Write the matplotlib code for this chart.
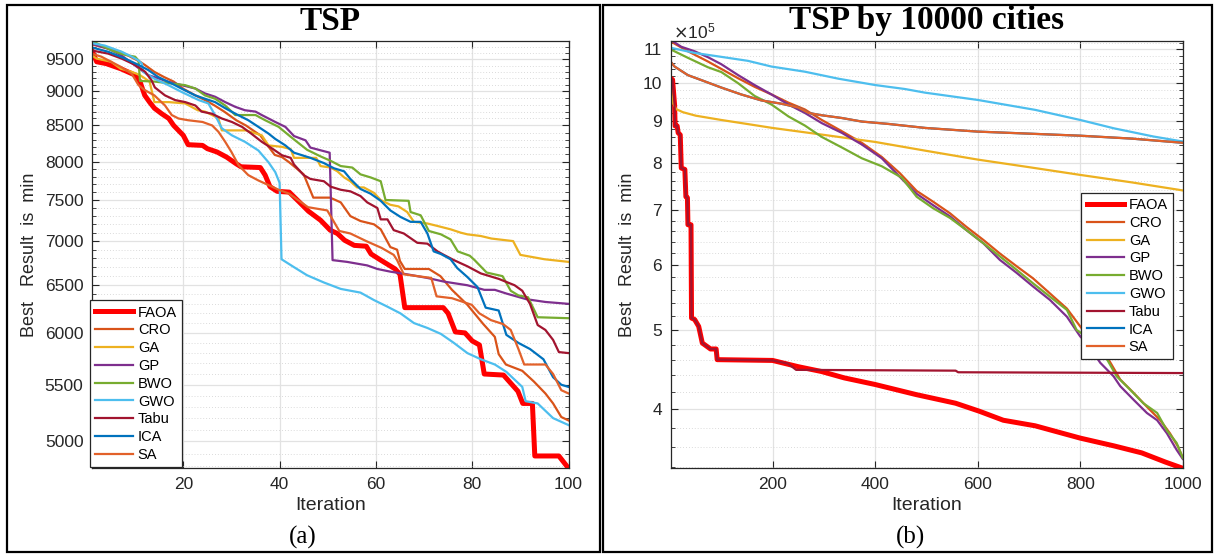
import numpy as np
import matplotlib
matplotlib.use('Agg')
import matplotlib.pyplot as plt
from matplotlib.ticker import FixedLocator, NullFormatter, FuncFormatter
from matplotlib.patches import Rectangle

plt.rcParams['font.family'] = ['Liberation Sans', 'DejaVu Sans']

names = ['FAOA', 'CRO', 'GA', 'GP', 'BWO', 'GWO', 'Tabu', 'ICA', 'SA']
colors = ['#FF0000', '#D95319', '#EDB120', '#7E2F8E', '#77AC30',
          '#4DBEEE', '#A2142F', '#0072BD', '#E2612A']

# ---- (a) TSP, 100 iterations: [iteration, best result] ----
faoa_a = [[1, 9650], [2, 9460], [4, 9430], [7, 9350], [10, 9250], [11, 9150], [12, 8940],
          [13, 8840], [14, 8750], [15.5, 8670], [17, 8600], [18, 8500], [20, 8360], [21, 8230],
          [24, 8220], [25, 8175], [27, 8130], [29, 8060], [31, 7970], [32, 7930], [36, 7920],
          [37, 7820], [38, 7670], [39.5, 7610], [42, 7600], [44, 7480], [46, 7360], [48.5, 7250],
          [50.5, 7130], [52, 7090], [53.5, 7010], [55.5, 6950], [58, 6940], [59, 6850], [61, 6780],
          [64, 6680], [65, 6620], [66, 6260], [74, 6260], [75, 6200], [76.5, 6010], [78.5, 6000],
          [80, 5920], [81.5, 5880], [82.5, 5600], [86.5, 5590], [89.5, 5440], [90.5, 5330],
          [92.5, 5330], [93, 4880], [98, 4880], [100, 4780]]
cro_a = [[1, 9740], [4.4, 9670], [7, 9620], [9, 9540], [11, 9460], [12, 9410], [14, 9300],
         [16, 9220], [18, 9150], [20, 9040], [22.5, 8940], [24.5, 8870], [26.5, 8790],
         [28.5, 8700], [31, 8575], [33, 8500], [36, 8360], [37.5, 8220], [39, 8090], [40.5, 8060],
         [42, 7990], [45, 7830], [47, 7530], [50.5, 7530], [52.7, 7470], [54.7, 7300],
         [56.8, 7240], [59.6, 7200], [61, 7140], [63, 6930], [64.4, 6900], [65, 6770], [66, 6680],
         [71, 6680], [73.4, 6600], [75.8, 6450], [79, 6290], [82.3, 6090], [84.7, 5960],
         [85.5, 5790], [87, 5690], [90.4, 5630], [92.8, 5530], [95.2, 5420], [96.8, 5330],
         [98.5, 5210], [100, 5180]]
ga_a = [[1, 9560], [2, 9510], [5, 9460], [7, 9350], [9.3, 9300], [11, 9250], [13, 9150],
        [14, 8840], [17, 8840], [20.4, 8820], [23, 8720], [24.5, 8700], [26, 8650], [27.3, 8600],
        [28, 8430], [33, 8430], [36.3, 8360], [37.7, 8220], [40.5, 8200], [42.3, 8170], [43, 8050],
        [47.6, 8050], [48.5, 7940], [50.6, 7920], [52, 7870], [53.4, 7790], [54.7, 7740],
        [56.1, 7660], [57.5, 7660], [59.6, 7590], [61, 7500], [63, 7440], [64.7, 7420],
        [66.5, 7350], [67.9, 7230], [70.7, 7210], [72.8, 7180], [75.5, 7140], [77.6, 7100],
        [79, 7080], [81.8, 7060], [84, 7030], [88.5, 7000], [90, 6840], [95, 6790], [100, 6760]]
gp_a = [[1, 9750], [4.4, 9670], [7.2, 9560], [10, 9400], [12.7, 9250], [14.8, 9200],
        [16.9, 9146], [19.7, 9095], [22.5, 9044], [24.5, 8970], [26.6, 8920], [28.7, 8840],
        [30.8, 8770], [32.8, 8720], [35, 8700], [36.3, 8650], [39.1, 8550], [41.2, 8480],
        [43, 8350], [45.4, 8290], [46.4, 8190], [50.4, 8120], [51, 6780], [54, 6760],
        [58.2, 6720], [60.3, 6680], [63, 6650], [66.5, 6620], [70.7, 6580], [74.1, 6540],
        [79, 6500], [82.5, 6450], [84.7, 6450], [87.1, 6410], [91.2, 6350], [95.2, 6320],
        [100, 6300]]
bwo_a = [[1, 9800], [3, 9720], [5.8, 9620], [7.9, 9570], [10, 9540], [10.7, 9480], [11, 9160],
         [14, 9150], [17.6, 9120], [20.4, 9095], [22.5, 9044], [24.5, 8940], [26.6, 8890],
         [28.7, 8790], [30.8, 8650], [35, 8650], [37, 8575], [39.8, 8480], [42.3, 8340],
         [45.7, 8160], [48.5, 8070], [50.6, 8010], [52.7, 7940], [55.1, 7920], [56.8, 7830],
         [58.9, 7790], [61, 7740], [62, 7500], [66.8, 7490], [67.2, 7350], [69.3, 7310],
         [71, 7120], [73.5, 7080], [75.5, 7020], [77, 6880], [79.5, 6830], [80.5, 6780],
         [83, 6640], [86.3, 6600], [88, 6440], [89.6, 6390], [91.6, 6370], [93.6, 6160],
         [100, 6150]]
gwo_a = [[1, 9760], [3.7, 9720], [7.2, 9620], [9.3, 9540], [10.7, 9480], [11.4, 9430],
         [11.7, 9300], [14.1, 9190], [16.9, 9095], [19.7, 8990], [23.2, 8870], [25.2, 8820],
         [26.6, 8650], [28, 8460], [30.1, 8360], [32.8, 8270], [35.6, 8150], [37.7, 7990],
         [39.1, 7860], [40, 7720], [40.4, 6790], [43, 6700], [45.7, 6610], [49.2, 6530],
         [52.7, 6460], [56.8, 6420], [59.6, 6340], [62.4, 6270], [65.1, 6200], [67.9, 6100],
         [70.7, 6050], [73.5, 5990], [76.2, 5900], [79, 5800], [81.8, 5740], [84.7, 5690],
         [87.1, 5620], [90.4, 5480], [91.1, 5350], [93.6, 5330], [96.8, 5200], [100, 5140]]
tabu_a = [[1, 9640], [4.4, 9590], [7.2, 9510], [10, 9410], [12.1, 9300], [13.4, 9170],
          [14.1, 9060], [16.2, 8940], [18.3, 8870], [20.4, 8840], [22.5, 8790], [23.8, 8700],
          [25.9, 8670], [28, 8600], [30.1, 8550], [32.2, 8480], [34.2, 8380], [36.3, 8270],
          [38.4, 8180], [40.5, 8085], [42.3, 8050], [43, 7960], [45, 7820], [46.4, 7770],
          [49.2, 7740], [50.6, 7670], [52.7, 7630], [54.7, 7610], [56.8, 7550], [58.2, 7470],
          [60.3, 7400], [61, 7260], [62.4, 7260], [63.7, 7130], [65.8, 7090], [68.6, 6980],
          [70.7, 6970], [72.8, 6880], [74.1, 6840], [76.2, 6780], [79, 6710], [81.8, 6630],
          [85.5, 6570], [88.8, 6500], [90.4, 6440], [92, 6300], [93.6, 6080], [95.2, 6030],
          [96.8, 5930], [98, 5810], [100, 5800]]
ica_a = [[1, 9690], [4.4, 9620], [7.9, 9510], [10.7, 9410], [12.7, 9330], [14.8, 9220],
         [17.6, 9120], [19.7, 9040], [22.5, 8940], [24.5, 8890], [26.6, 8840], [28.7, 8750],
         [30.8, 8670], [33.5, 8575], [35.6, 8480], [37.7, 8385], [39.1, 8310], [41.2, 8220],
         [43, 8120], [46.4, 8050], [49.2, 7980], [51.3, 7910], [53.4, 7870], [54.7, 7770],
         [56.8, 7640], [58.9, 7580], [61, 7490], [63, 7370], [65.1, 7290], [67.2, 7230],
         [69.3, 7230], [70.7, 7090], [72, 6880], [73.5, 6850], [75.5, 6790], [76.9, 6690],
         [79, 6590], [81.1, 6480], [82.8, 6260], [85.5, 6230], [87.1, 5980], [89.6, 5900],
         [92, 5840], [94.8, 5740], [96.8, 5570], [98.5, 5500], [100, 5480]]
sa_a = [[1, 9590], [3, 9540], [5, 9460], [7, 9380], [9.3, 9270], [10.7, 9095], [12, 9020],
        [14, 8940], [16.2, 8790], [17.6, 8650], [19, 8600], [21, 8575], [24, 8550], [26, 8500],
        [27.3, 8410], [28.7, 8270], [30, 8130], [31.5, 7950], [33.5, 7820], [35.6, 7750],
        [37.7, 7690], [39.8, 7630], [42, 7580], [45.9, 7410], [49.9, 7370], [52.4, 7120],
        [54.7, 7090], [58, 7000], [61.2, 6920], [63.7, 6840], [64.4, 6780], [65.8, 6620],
        [71.5, 6580], [72.6, 6380], [75.8, 6360], [79.9, 6290], [81.5, 6200], [83.9, 6130],
        [86.4, 6090], [88, 6030], [89.6, 5840], [90.8, 5690], [95.2, 5690], [96.8, 5600],
        [98.5, 5450], [100, 5420]]

# ---- (b) TSP by 10000 cities, 1000 iterations: [iteration, best result / 1e5] ----
faoa_b = [[1, 10.15], [5, 10.1], [9, 9.4], [10, 8.87], [14, 8.87], [16, 8.7], [20, 8.65],
          [22, 7.88], [29, 7.85], [31, 7.27], [34, 7.25], [35, 6.72], [41, 6.72], [42, 5.17],
          [48, 5.15], [56, 5.05], [63, 4.82], [79, 4.74], [90, 4.74], [92, 4.6], [200, 4.59],
          [250, 4.51], [295, 4.45], [340, 4.37], [400, 4.29], [480, 4.17], [557, 4.07],
          [603, 3.98], [650, 3.88], [712, 3.82], [800, 3.69], [866, 3.61], [920, 3.54],
          [966, 3.45], [1000, 3.39]]
cro_b = [[1, 11.25], [35, 10.94], [74, 10.63], [133, 10.14], [165, 9.9], [198, 9.69],
         [231, 9.47], [263, 9.29], [296, 9.02], [335, 8.74], [374, 8.46], [413, 8.13],
         [448, 7.77], [481, 7.39], [513, 7.17], [546, 6.94], [578, 6.68], [611, 6.44],
         [643, 6.2], [676, 5.98], [708, 5.78], [741, 5.54], [774, 5.31], [800, 5.05],
         [826, 4.82], [852, 4.64], [878, 4.35], [904, 4.19], [930, 4.03], [956, 3.88],
         [975, 3.74], [991, 3.6], [1000, 3.49]]
ga_b = [[1, 10.1], [3, 9.7], [6, 9.45], [12, 9.3], [25, 9.22], [50, 9.13], [100, 9.02],
        [150, 8.92], [200, 8.82], [300, 8.65], [400, 8.48], [500, 8.27], [600, 8.07],
        [700, 7.9], [800, 7.73], [900, 7.57], [1000, 7.40]]
gp_b = [[1, 11.3], [22, 11.08], [48, 10.94], [74, 10.76], [100, 10.55], [133, 10.23],
        [165, 9.95], [198, 9.69], [231, 9.42], [263, 9.2], [296, 8.94], [335, 8.7], [374, 8.42],
        [413, 8.1], [448, 7.69], [481, 7.33], [513, 7.1], [546, 6.88], [578, 6.62], [611, 6.38],
        [643, 6.09], [676, 5.87], [708, 5.65], [741, 5.44], [774, 5.19], [800, 4.91],
        [813, 4.82], [839, 4.56], [865, 4.39], [878, 4.27], [904, 4.11], [930, 3.96],
        [950, 3.88], [969, 3.74], [988, 3.57], [1000, 3.48]]
bwo_b = [[1, 11.0], [35, 10.74], [74, 10.46], [100, 10.32], [133, 10.0], [165, 9.65],
         [198, 9.42], [231, 9.11], [263, 8.88], [296, 8.6], [335, 8.35], [374, 8.1], [413, 7.92],
         [452, 7.67], [481, 7.27], [513, 7.04], [546, 6.85], [578, 6.62], [611, 6.38],
         [643, 6.15], [676, 5.92], [708, 5.70], [741, 5.49], [774, 5.29], [793, 5.0],
         [820, 4.87], [845, 4.69], [871, 4.39], [897, 4.23], [923, 4.07], [950, 3.96],
         [969, 3.77], [988, 3.64], [1000, 3.49]]
gwo_b = [[1, 11.05], [48, 10.89], [100, 10.77], [152, 10.65], [198, 10.48], [263, 10.33],
         [328, 10.13], [400, 9.95], [458, 9.84], [497, 9.74], [601, 9.54], [712, 9.28],
         [800, 9.02], [866, 8.81], [943, 8.61], [1000, 8.49]]
tabu_b = [[1, 10.15], [5, 10.1], [9, 9.4], [10, 8.87], [14, 8.87], [16, 8.7], [20, 8.65],
          [22, 7.88], [29, 7.85], [31, 7.27], [34, 7.25], [35, 6.72], [41, 6.72], [42, 5.17],
          [48, 5.15], [56, 5.05], [63, 4.82], [79, 4.74], [90, 4.74], [92, 4.6], [200, 4.59],
          [230, 4.55], [246, 4.47], [557, 4.46], [562, 4.44], [1000, 4.43]]
ica_b = [[1, 10.63], [9, 10.48], [35, 10.23], [61, 10.09], [100, 9.88], [139, 9.69],
         [178, 9.53], [218, 9.44], [250, 9.34], [270, 9.2], [296, 9.14], [335, 9.07],
         [374, 8.98], [426, 8.92], [498, 8.82], [600, 8.73], [700, 8.68], [800, 8.63],
         [900, 8.56], [1000, 8.46]]
sa_b = [[1, 10.63], [9, 10.48], [35, 10.23], [61, 10.09], [100, 9.88], [139, 9.69],
        [178, 9.53], [218, 9.44], [250, 9.34], [270, 9.2], [296, 9.14], [335, 9.07],
        [374, 8.98], [426, 8.92], [498, 8.82], [600, 8.73], [700, 8.68], [800, 8.63],
        [900, 8.56], [1000, 8.46]]

series_a = [faoa_a, cro_a, ga_a, gp_a, bwo_a, gwo_a, tabu_a, ica_a, sa_a]
series_b = [faoa_b, cro_b, ga_b, gp_b, bwo_b, gwo_b, tabu_b, ica_b, sa_b]

xticks_a = [20, 40, 60, 80, 100]
yticks_a = [5000, 5500, 6000, 6500, 7000, 7500, 8000, 8500, 9000, 9500]
xticks_b = [200, 400, 600, 800, 1000]
yticks_b = [4, 5, 6, 7, 8, 9, 10, 11]

W, H = 1220, 555
fig = plt.figure(figsize=(W / 100, H / 100), dpi=100)

def px(x0, y0, x1, y1):
    return [x0 / W, 1 - y1 / H, (x1 - x0) / W, (y1 - y0) / H]

ax1 = fig.add_axes(px(91.8, 40.7, 568.5, 468.3))
ax2 = fig.add_axes(px(670.5, 40.7, 1182.8, 468.3))

def style(ax):
    ax.set_yscale('log')
    ax.set_axisbelow(True)
    ax.tick_params(which='both', direction='in', top=True, right=True,
                   colors='#262626', labelsize=12.5, pad=6)
    ax.tick_params(which='major', length=5, width=0.8)
    ax.tick_params(which='minor', length=2.8, width=0.6)
    ax.yaxis.set_minor_formatter(NullFormatter())
    ax.grid(True, which='major', color='#e2e2e2', lw=0.9)
    ax.yaxis.grid(True, which='minor', color='#cfcfcf', lw=0.6, ls=(0, (1, 2.5)))
    for s in ax.spines.values():
        s.set_color('#262626')
        s.set_linewidth(0.9)
    ax.set_xlabel('Iteration', fontsize=14, color='#262626', labelpad=4)
    ax.set_ylabel('Best   Result  is  min', fontsize=13, color='#262626')

# (a)
for data, name, c in zip(series_a, names, colors):
    d = np.array(data, dtype=float)
    ax1.plot(d[:, 0], d[:, 1], color=c, lw=3.6 if name == 'FAOA' else 1.6, label=name)
style(ax1)
ax1.set_xlim(1, 100)
ax1.set_ylim(4780, 9800)
ax1.xaxis.set_major_locator(FixedLocator(xticks_a))
ax1.yaxis.set_major_locator(FixedLocator(yticks_a))
ax1.yaxis.set_major_formatter(FuncFormatter(lambda v, p: '%d' % v))
ax1.yaxis.set_minor_locator(FixedLocator([v for v in range(4800, 9900, 100) if v % 500]))
ax1.yaxis.set_label_coords(-0.112, 0.5)
leg1 = ax1.legend(loc='lower left', bbox_to_anchor=(-0.003, 0.003), borderaxespad=0,
                  fontsize=10.5, fancybox=False, edgecolor='#262626', framealpha=1,
                  handlelength=2.6, handletextpad=0.3, labelspacing=0.26, borderpad=0.35)
leg1.get_frame().set_linewidth(0.9)

# (b)
for data, name, c in zip(series_b, names, colors):
    d = np.array(data, dtype=float)
    ax2.plot(d[:, 0], d[:, 1] * 1e5, color=c, lw=3.6 if name == 'FAOA' else 1.6, label=name)
style(ax2)
ax2.set_xlim(1, 1000)
ax2.set_ylim(3.39e5, 11.27e5)
ax2.xaxis.set_major_locator(FixedLocator(xticks_b))
ax2.yaxis.set_major_locator(FixedLocator([v * 1e5 for v in yticks_b]))
ax2.yaxis.set_major_formatter(FuncFormatter(lambda v, p: '%g' % (v / 1e5)))
ax2.yaxis.set_minor_locator(FixedLocator([k * 2e4 for k in range(17, 57) if k % 5]))
ax2.yaxis.set_label_coords(-0.068, 0.5)
leg2 = ax2.legend(loc='upper right', bbox_to_anchor=(0.981, 0.644), borderaxespad=0,
                  fontsize=10.5, fancybox=False, edgecolor='#262626', framealpha=1,
                  handlelength=2.6, handletextpad=0.3, labelspacing=0.26, borderpad=0.35)
leg2.get_frame().set_linewidth(0.9)
fig.text(673 / W, 1 - 31 / H, r'$\times\mathregular{10^5}$', fontsize=12.5,
         color='#262626', ha='left', va='center')

# titles and panel captions
serif = ['Liberation Serif', 'DejaVu Serif']
fig.text(330 / W, 1 - 29.5 / H, 'TSP', family=serif, weight='bold', fontsize=24,
         ha='center', va='baseline')
fig.text(926.6 / W, 1 - 29.5 / H, 'TSP by 10000 cities', family=serif, weight='bold',
         fontsize=24, ha='center', va='baseline')
fig.text(303 / W, 1 - 537 / H, '(a)', family=serif, fontsize=18, ha='center', va='center')
fig.text(910 / W, 1 - 537 / H, '(b)', family=serif, fontsize=18, ha='center', va='center')

# panel frames
for x0, x1 in [(7, 600), (603, 1212)]:
    fig.add_artist(Rectangle((x0 / W, 1 - 552 / H), (x1 - x0) / W, 547 / H,
                             transform=fig.transFigure, fill=False, ec='black', lw=1.6))

fig.savefig('out.png', dpi=100)
